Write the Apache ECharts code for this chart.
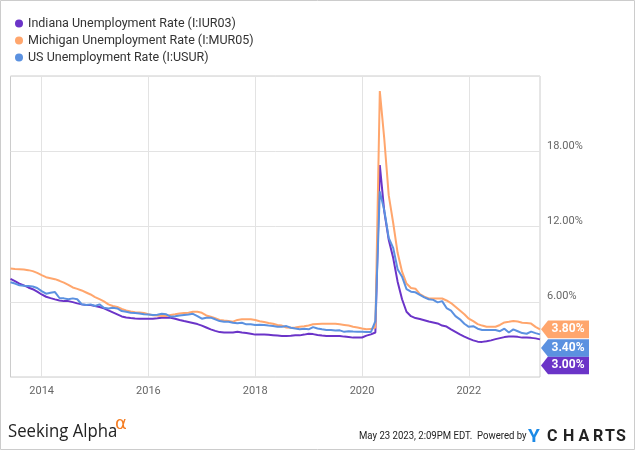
<!DOCTYPE html>
<html>
<head>
<meta charset="utf-8">
<script src="https://cdn.jsdelivr.net/npm/echarts@6/dist/echarts.min.js"></script>
<style>
html,body{margin:0;padding:0;background:#fff;}
#chart{width:635px;height:450px;}
</style>
</head>
<body>
<div id="chart"></div>
<script>
// Monthly observations, May 2013 .. April 2023 (month-end)
const startYear = 2013;
const startMonth = 5;

const seriesNames = [
  'Indiana Unemployment Rate (I:IUR03)',
  'Michigan Unemployment Rate (I:MUR05)',
  'US Unemployment Rate (I:USUR)'
];

const indiana = [
  7.82, 7.64, 7.45, 7.30, 7.14, 7.00, 6.80, 6.58, 6.40, 6.29,
  6.19, 6.10, 6.05, 6.05, 5.97, 5.87, 5.79, 5.74, 5.74, 5.66,
  5.58, 5.47, 5.31, 5.15, 4.99, 4.83, 4.75, 4.70, 4.66, 4.64,
  4.64, 4.64, 4.65, 4.68, 4.72, 4.73, 4.73, 4.65, 4.55, 4.46,
  4.38, 4.30, 4.22, 4.10, 3.95, 3.80, 3.68, 3.58, 3.54, 3.54,
  3.55, 3.60, 3.54, 3.50, 3.45, 3.38, 3.38, 3.38, 3.36, 3.33,
  3.30, 3.27, 3.27, 3.28, 3.32, 3.32, 3.38, 3.45, 3.42, 3.35,
  3.30, 3.27, 3.27, 3.27, 3.27, 3.22, 3.18, 3.14, 3.14, 3.15,
  3.30, 3.40, 3.55, 16.90, 13.20, 10.95, 9.50, 7.60, 6.20, 5.20,
  4.85, 4.70, 4.62, 4.52, 4.42, 4.35, 4.27, 4.10, 4.02, 3.80,
  3.60, 3.40, 3.22, 3.06, 2.92, 2.82, 2.80, 2.85, 2.92, 3.02,
  3.10, 3.18, 3.22, 3.22, 3.20, 3.14, 3.14, 3.12, 3.08, 3.00
];

const michigan = [
  8.65, 8.62, 8.60, 8.57, 8.52, 8.44, 8.30, 8.12, 7.96, 7.88,
  7.80, 7.67, 7.53, 7.35, 7.14, 7.03, 6.90, 6.74, 6.58, 6.37,
  6.21, 6.03, 5.79, 5.66, 5.58, 5.42, 5.31, 5.23, 5.16, 5.15,
  5.10, 5.00, 4.93, 4.90, 4.86, 4.86, 4.95, 5.00, 5.07, 5.10,
  5.12, 5.20, 5.20, 5.12, 4.91, 4.81, 4.68, 4.55, 4.50, 4.46,
  4.41, 4.55, 4.60, 4.60, 4.60, 4.54, 4.45, 4.38, 4.30, 4.25,
  4.15, 4.10, 3.95, 3.93, 3.95, 4.01, 4.04, 4.10, 4.20, 4.23,
  4.25, 4.25, 4.25, 4.25, 4.20, 4.15, 4.10, 4.01, 3.95, 3.87,
  3.80, 3.82, 3.95, 22.80, 19.00, 14.50, 12.30, 9.90, 8.40, 7.45,
  7.10, 7.04, 6.60, 6.40, 6.26, 6.26, 6.26, 6.26, 6.10, 5.90,
  5.60, 5.30, 5.00, 4.65, 4.45, 4.22, 4.10, 4.01, 4.01, 4.01,
  4.15, 4.35, 4.40, 4.46, 4.42, 4.33, 4.30, 4.26, 4.00, 3.80
];

const us = [
  7.56, 7.45, 7.32, 7.28, 7.25, 7.22, 7.10, 6.85, 6.64, 6.72,
  6.77, 6.30, 6.27, 6.20, 6.27, 6.20, 5.80, 5.74, 5.79, 5.66,
  5.79, 5.52, 5.47, 5.52, 5.47, 5.26, 5.20, 5.13, 5.10, 5.07,
  5.00, 4.99, 4.94, 4.97, 5.04, 5.00, 4.81, 4.85, 4.90, 4.95,
  4.99, 5.04, 4.86, 4.65, 4.73, 4.73, 4.60, 4.46, 4.41, 4.41,
  4.33, 4.28, 4.33, 4.20, 4.20, 4.15, 4.17, 4.15, 4.10, 4.06,
  4.00, 4.01, 4.06, 3.93, 3.86, 3.80, 3.85, 3.80, 3.98, 3.87,
  3.80, 3.75, 3.75, 3.70, 3.72, 3.60, 3.65, 3.62, 3.61, 3.61,
  3.58, 3.58, 4.45, 14.80, 13.30, 11.10, 10.30, 8.60, 8.00, 7.00,
  6.80, 6.75, 6.55, 6.35, 6.20, 6.15, 5.95, 6.05, 5.50, 5.30,
  4.85, 4.60, 4.25, 4.00, 4.05, 3.85, 3.75, 3.75, 3.75, 3.75,
  3.65, 3.85, 3.55, 3.80, 3.65, 3.50, 3.45, 3.62, 3.50, 3.40
];

const yearTicks = [2014, 2016, 2018, 2020, 2022];
const yTicks = [6, 12, 18];

const colors = ['#6b34c8', '#ffa66d', '#5b91e0'];
const flagShift = [26, 0, 13.7];

// month-end decimal year for each observation
const xs = indiana.map((_, i) => {
  const m0 = startMonth - 1 + i;
  const y = startYear + Math.floor(m0 / 12);
  const m = (m0 % 12) + 1;
  return y + m / 12;
});

const allData = [indiana, michigan, us];

const chart = echarts.init(document.getElementById('chart'), null, {renderer: 'canvas'});

const series = allData.map((vals, k) => {
  const last = vals.length - 1;
  return {
    name: seriesNames[k],
    type: 'line',
    data: vals.map((v, i) => [xs[i], v]),
    showSymbol: false,
    symbol: 'none',
    color: colors[k],
    lineStyle: {width: 2, color: colors[k]},
    clip: false,
    z: 2 + k,
    markPoint: {
      symbol: 'path://M0,9 L7,0 L48,0 L48,18 L7,18 Z',
      symbolSize: [48, 17.6],
      symbolKeepAspect: false,
      symbolOffset: [25, flagShift[k]],
      itemStyle: {color: colors[k]},
      label: {
        show: true,
        position: 'inside',
        offset: [3, 0],
        color: '#fff',
        fontFamily: 'Roboto',
        fontWeight: 'bold',
        fontSize: 12,
        formatter: p => p.value.toFixed(2) + '%'
      },
      data: [{coord: [xs[last], vals[last]], value: vals[last]}],
      z: 10
    }
  };
});

// footer brand letters (position in px)
const brand = [
  {t: 'Y', x: 528, c: '#1c8ae6', s: 19},
  {t: 'C', x: 547, c: '#222', s: 16},
  {t: 'H', x: 563, c: '#222', s: 16},
  {t: 'A', x: 578.5, c: '#222', s: 16},
  {t: 'R', x: 593, c: '#222', s: 16},
  {t: 'T', x: 605, c: '#222', s: 16},
  {t: 'S', x: 616, c: '#222', s: 16}
];

const option = {
  animation: false,
  backgroundColor: '#fff',
  textStyle: {fontFamily: 'Roboto'},
  legend: {
    orient: 'vertical',
    left: 15,
    top: 17,
    padding: 0,
    itemGap: 4,
    itemWidth: 8,
    itemHeight: 8,
    icon: 'circle',
    textStyle: {fontSize: 12.5, color: '#333', fontFamily: 'Roboto'},
    data: seriesNames
  },
  grid: {
    left: 10.5,
    right: 95,
    top: 76,
    bottom: 73,
    show: true,
    borderColor: '#cccccc',
    borderWidth: 1,
    containLabel: false
  },
  xAxis: {
    type: 'value',
    min: xs[0],
    max: xs[xs.length - 1],
    axisLine: {show: false},
    axisTick: {show: false, customValues: yearTicks},
    axisLabel: {
      customValues: yearTicks,
      fontSize: 11,
      color: '#666',
      margin: 9,
      formatter: v => String(Math.round(v))
    },
    splitLine: {show: true, lineStyle: {color: '#e3e3e3', width: 1}}
  },
  yAxis: {
    type: 'value',
    position: 'right',
    min: 0,
    max: 24,
    interval: 6,
    axisLine: {show: false},
    axisTick: {show: false},
    axisLabel: {
      fontSize: 11,
      color: '#666',
      margin: 7,
      verticalAlign: 'bottom',
      formatter: v => (yTicks.indexOf(v) >= 0 ? v.toFixed(2) + '%' : '')
    },
    splitLine: {show: true, lineStyle: {color: '#e3e3e3', width: 1}}
  },
  series: series,
  graphic: [
    {
      type: 'rect',
      shape: {x: 0.5, y: 0.5, width: 634, height: 449},
      style: {fill: 'none', stroke: '#cccccc', lineWidth: 1},
      z: 100, silent: true
    },
    {
      type: 'text',
      x: 8, y: 422,
      style: {text: 'Seeking Alpha', fill: '#222', font: '19px "Open Sans"'},
      scaleX: 0.88,
      z: 100
    },
    {
      type: 'text',
      x: 115, y: 415,
      style: {text: 'α', fill: '#f57c20', font: '18px "DejaVu Sans"'},
      z: 100
    },
    {
      type: 'text',
      x: 359, y: 431,
      style: {text: 'May 23 2023, 2:09PM EDT.  Powered by', fill: '#222', font: '11px Roboto'},
      scaleX: 0.87,
      z: 100
    }
  ].concat(brand.map(b => ({
    type: 'text',
    x: b.x, y: 437, 
    style: {text: b.t, fill: b.c, font: 'bold ' + b.s + 'px Roboto', verticalAlign: 'middle'},
    z: 100
  })))
};

chart.setOption(option);
</script>
</body>
</html>
